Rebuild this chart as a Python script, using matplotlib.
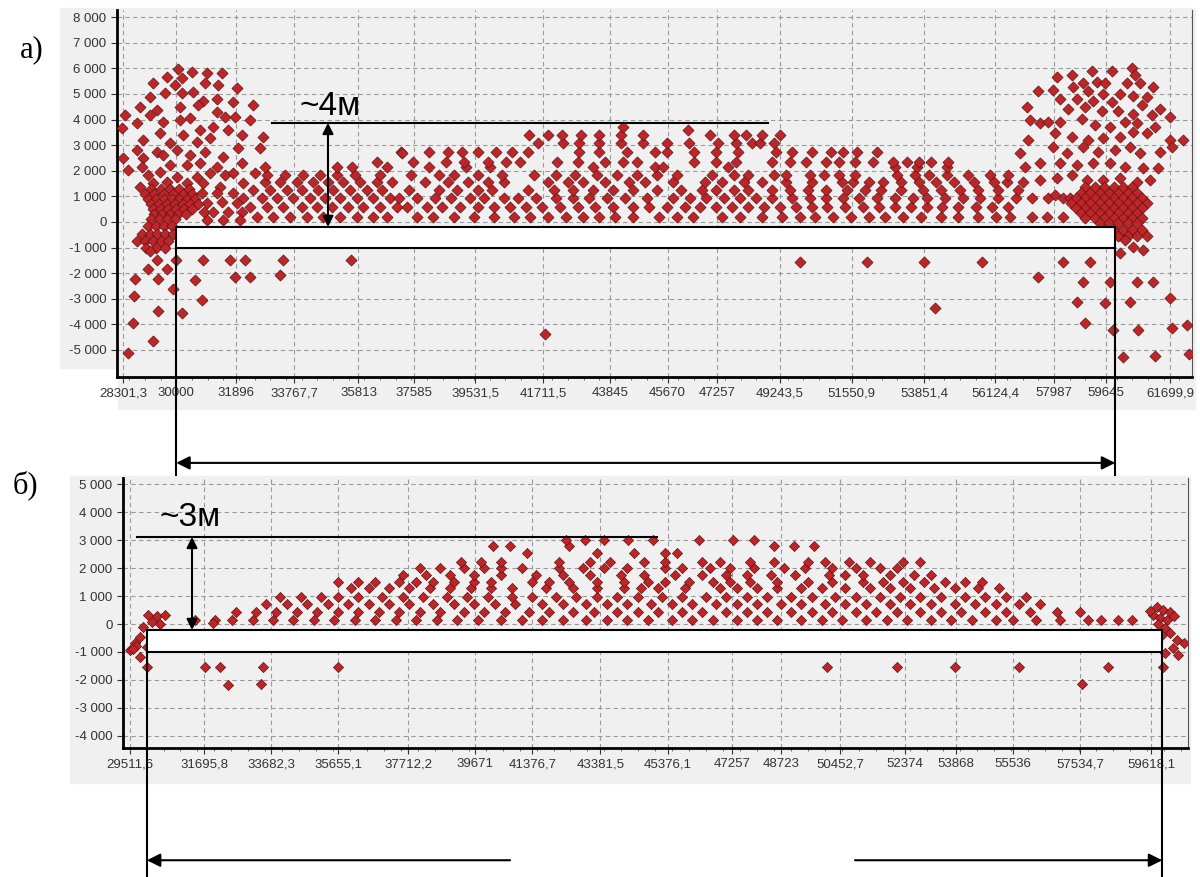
import matplotlib
matplotlib.use("Agg")
import matplotlib.pyplot as plt
from matplotlib.patches import Rectangle
from matplotlib.ticker import FixedLocator, MultipleLocator, FuncFormatter

K = 1000  # data below is in thousands

# ---------------- panel a) ----------------
a_xlabels = ["28301,3", "30000", "31896", "33767,7", "35813", "37585", "39531,5",
             "41711,5", "43845", "45670", "47257", "49243,5", "51550,9", "53851,4",
             "56124,4", "57987", "59645", "61699,9"]
a_yticks = [-5, -4, -3, -2, -1, 0, 1, 2, 3, 4, 5, 6, 7, 8]

# rows of the middle band: level, x positions
a_band_levels = [0.21, 0.60, 0.92, 1.25, 1.57, 1.84, 2.16, 2.36, 2.75, 3.07, 3.40]
a_band_rows = [
    [32.56, 33.10, 33.63, 34.16, 34.69, 35.22, 35.75, 36.29, 36.71, 37.67, 38.18, 38.87,
     39.51, 40.14, 40.77, 41.28, 41.85, 42.42, 42.99, 43.49, 44.00, 44.57, 45.39, 45.96,
     46.47, 47.42, 47.99, 48.68, 49.32, 49.89, 50.39, 50.96, 51.53, 52.10, 52.61, 53.18,
     53.75, 54.38, 54.95, 55.58, 56.15, 56.60, 57.29, 57.76, 58.30],
    [32.35, 32.88, 33.41, 34.00, 34.48, 34.96, 35.49, 35.97, 36.50, 37.03, 37.35, 37.99,
     38.49, 39.06, 39.63, 40.14, 40.64, 41.15, 41.66, 42.23, 42.80, 43.37, 43.94, 44.57,
     45.08, 45.65, 46.22, 46.72, 47.23, 47.73, 48.24, 48.75, 49.25, 49.76, 50.27, 50.77,
     51.34, 51.91, 52.42, 52.93, 53.43, 53.94, 54.44, 54.95, 55.52, 56.03, 56.53],
    [32.72, 33.20, 33.73, 34.26, 34.74, 35.22, 35.75, 36.29, 36.82, 37.10, 37.67, 38.24,
     38.75, 39.38, 39.82, 40.45, 40.90, 41.47, 42.10, 42.67, 43.18, 43.75, 44.32, 45.01,
     45.84, 46.40, 46.91, 47.48, 47.99, 48.49, 49.00, 49.63, 50.20, 50.71, 51.28, 51.79,
     52.36, 52.93, 53.49, 53.94, 54.51, 55.08, 55.65, 56.22, 56.79, 57.30, 57.80, 58.30],
    [32.46, 32.99, 33.52, 34.00, 34.53, 35.01, 35.54, 36.07, 36.55, 37.42, 38.37, 38.94,
     39.63, 40.08, 41.21, 42.04, 42.67, 43.30, 43.94, 44.57, 45.33, 46.09, 46.78, 47.23,
     47.80, 48.24, 49.00, 49.57, 50.14, 50.71, 51.41, 51.98, 52.48, 53.11, 53.81, 54.38,
     55.01, 55.58, 56.22, 56.85],
    [32.83, 33.31, 33.84, 34.37, 34.85, 35.33, 35.86, 36.39, 36.87, 37.92, 38.68, 39.32,
     39.95, 40.45, 41.85, 42.48, 42.99, 43.68, 44.44, 44.95, 45.84, 46.85, 47.42, 48.11,
     48.68, 49.44, 50.27, 51.22, 51.60, 52.10, 52.55, 53.11, 53.68, 54.25, 54.82, 55.46,
     56.09, 56.49, 57.02],
    [32.88, 33.47, 34.05, 34.59, 35.12, 35.70, 36.50, 37.48, 38.37, 38.87, 39.63, 40.39,
     41.40, 42.10, 42.73, 43.43, 44.06, 44.70, 45.33, 45.96, 47.10, 47.80, 48.24, 49.06,
     49.44, 50.20, 50.65, 51.15, 51.66, 52.99, 53.56, 54.00, 54.57, 55.27, 55.96, 56.53],
    [35.13, 35.61, 36.73, 38.05, 39.25, 40.01, 43.30, 45.27, 45.52, 47.61, 52.93, 53.62,
     54.57],
    [36.41, 37.54, 38.62, 39.19, 39.95, 40.52, 40.96, 42.16, 42.80, 43.68, 44.25, 44.70,
     46.53, 47.23, 47.86, 48.99, 49.57, 50.08, 50.71, 51.15, 51.66, 52.23, 52.86, 53.30,
     53.68, 54.06, 54.63],
    [37.16, 38.05, 38.68, 39.13, 39.63, 40.20, 40.71, 41.21, 42.86, 43.49, 44.38, 45.27,
     45.65, 46.53, 47.23, 47.92, 49.13, 49.63, 50.27, 50.90, 51.28, 51.72, 52.36],
    [41.53, 42.35, 42.86, 43.49, 44.19, 44.89, 45.65, 46.34, 47.29, 47.86, 48.37, 48.62,
     49.06],
    [41.25, 41.85, 42.30, 42.92, 43.49, 44.19, 44.89, 47.04, 47.80, 48.18, 48.68, 49.25],
]
a_peaks = [(44.25, 3.70), (46.32, 3.60)]

a_left = [(30.06, 5.98), (30.50, 5.86), (30.98, 5.82), (31.46, 5.82), (29.70, 5.66),
          (30.18, 5.63), (29.26, 5.43), (29.96, 5.35), (30.92, 5.43), (31.33, 5.35),
          (31.94, 5.23), (29.16, 4.88), (29.64, 5.04), (30.18, 5.04), (30.54, 5.08),
          (30.86, 4.73), (31.30, 4.80), (31.81, 4.69), (32.45, 4.57), (28.84, 4.49),
          (29.39, 4.38), (30.12, 4.49), (30.70, 4.57), (28.37, 4.18), (28.75, 3.87),
          (29.16, 4.18), (29.58, 3.91), (30.12, 3.98), (30.44, 4.06), (31.30, 4.30),
          (31.55, 4.10), (31.87, 4.10), (32.35, 3.98), (28.27, 3.67), (29.48, 3.48),
          (30.22, 3.40), (30.76, 3.59), (31.17, 3.71), (31.65, 3.59), (32.10, 3.40),
          (32.77, 3.32), (28.94, 3.20), (29.80, 3.09), (30.66, 3.13), (31.08, 3.28),
          (31.97, 2.89), (32.67, 2.89), (28.75, 2.81), (29.39, 2.73), (30.02, 2.81),
          (30.44, 2.62), (30.92, 2.73), (31.49, 2.54), (28.30, 2.50), (28.94, 2.50),
          (29.58, 2.62), (29.80, 2.23), (30.34, 2.23), (30.76, 2.30), (31.30, 2.15),
          (32.10, 2.30), (32.83, 2.15), (28.46, 2.03), (28.91, 2.15), (29.10, 1.84),
          (29.48, 1.95), (30.02, 1.76), (30.66, 1.76), (31.08, 1.91), (31.55, 1.84),
          (31.81, 1.91), (32.51, 1.91), (28.84, 1.37), (29.26, 1.52), (29.70, 1.56),
          (30.34, 1.52), (30.86, 1.52), (31.40, 1.37), (32.13, 1.52), (37.20, 2.70),
          (30.81, 1.15), (31.29, 1.12), (31.82, 1.15), (32.14, 0.95), (30.97, 0.73),
          (31.45, 0.80), (31.93, 0.73), (30.90, 0.40), (31.18, 0.40), (31.66, 0.40),
          (32.10, 0.40), (30.97, 0.08), (31.50, 0.08), (32.03, 0.08)]

a_left_core = [(29.2, 1.3), (29.5, 1.3), (29.8, 1.3), (30.1, 1.3), (30.4, 1.3),
               (29.0, 1.1), (29.3, 1.1), (29.6, 1.1), (29.9, 1.1), (30.2, 1.1), (30.5, 1.1),
               (29.1, 0.9), (29.35, 0.9), (29.6, 0.9), (29.85, 0.9), (30.1, 0.9),
               (30.35, 0.9), (30.6, 0.9), (29.2, 0.7), (29.45, 0.7), (29.7, 0.7),
               (29.95, 0.7), (30.2, 0.7), (30.45, 0.7), (30.7, 0.7), (29.25, 0.5),
               (29.5, 0.5), (29.75, 0.5), (30.0, 0.5), (30.25, 0.5), (30.5, 0.5),
               (29.3, 0.3), (29.55, 0.3), (29.8, 0.3), (30.05, 0.3), (30.3, 0.3),
               (29.2, 0.1), (29.45, 0.1), (29.7, 0.1), (29.95, 0.1), (29.1, -0.15),
               (29.35, -0.15), (29.6, -0.15), (29.85, -0.15), (28.9, -0.45), (29.15, -0.45),
               (29.4, -0.45), (29.65, -0.45), (29.9, -0.45), (28.75, -0.75), (29.0, -0.75),
               (29.25, -0.75), (29.5, -0.75), (29.75, -0.75), (29.05, -1.0), (29.35, -1.0),
               (29.65, -1.0)]

a_right = [(58.08, 5.68), (58.56, 5.74), (59.20, 5.91), (59.84, 5.91), (60.48, 6.00),
           (60.58, 5.74), (58.93, 5.42), (59.36, 5.48), (59.62, 5.42), (60.32, 5.42),
           (60.74, 5.42), (61.17, 5.26), (57.50, 5.13), (57.98, 5.17), (58.62, 5.29),
           (59.09, 5.13), (59.57, 5.00), (60.10, 5.00), (60.53, 4.94), (60.95, 4.87),
           (58.19, 4.81), (58.72, 4.81), (59.25, 4.74), (59.84, 4.68), (60.80, 4.55),
           (61.38, 4.42), (57.13, 4.48), (58.46, 4.42), (58.99, 4.48), (59.52, 4.35),
           (60.05, 4.35), (60.53, 4.22), (61.11, 4.16), (61.70, 4.09), (57.23, 4.00),
           (57.55, 3.85), (57.82, 3.91), (58.19, 3.91), (58.88, 4.04), (59.31, 3.78),
           (59.78, 3.72), (60.26, 3.91), (60.64, 3.85), (61.22, 3.72), (58.03, 3.46),
           (58.56, 3.33), (59.09, 3.20), (59.57, 3.27), (60.10, 3.33), (60.53, 3.52),
           (60.95, 3.46), (61.70, 3.20), (62.12, 3.20), (57.18, 3.20), (56.91, 2.68),
           (57.98, 2.94), (58.40, 2.68), (58.93, 2.94), (59.41, 2.75), (59.94, 2.81),
           (60.42, 2.94), (60.74, 2.68), (61.38, 2.75), (61.75, 2.94), (57.07, 2.16),
           (57.55, 2.29), (58.19, 2.29), (58.72, 2.23), (59.25, 2.29), (59.78, 2.29),
           (60.26, 2.16), (60.85, 2.10), (61.33, 2.10), (57.55, 1.64), (58.08, 1.71),
           (58.56, 1.84), (59.04, 1.64), (59.57, 1.64), (60.10, 1.71), (60.64, 1.58),
           (61.06, 1.64), (58.03, 1.07), (58.51, 0.94)]

a_right_core = [(59.0, 1.35), (59.3, 1.35), (59.6, 1.35), (59.9, 1.35), (60.2, 1.35),
                (60.5, 1.35), (58.85, 1.15), (59.15, 1.15), (59.45, 1.15), (59.75, 1.15),
                (60.05, 1.15), (60.35, 1.15), (60.65, 1.15), (58.7, 0.95), (59.0, 0.95),
                (59.3, 0.95), (59.6, 0.95), (59.9, 0.95), (60.2, 0.95), (60.5, 0.95),
                (60.8, 0.95), (58.55, 0.75), (58.85, 0.75), (59.15, 0.75), (59.45, 0.75),
                (59.75, 0.75), (60.05, 0.75), (60.35, 0.75), (60.65, 0.75), (60.95, 0.75),
                (58.7, 0.55), (59.0, 0.55), (59.3, 0.55), (59.6, 0.55), (59.9, 0.55),
                (60.2, 0.55), (60.5, 0.55), (60.8, 0.55), (58.85, 0.35), (59.15, 0.35),
                (59.45, 0.35), (59.75, 0.35), (60.05, 0.35), (60.35, 0.35), (60.65, 0.35),
                (59.0, 0.15), (59.3, 0.15), (59.6, 0.15), (59.9, 0.15), (60.2, 0.15),
                (60.5, 0.15), (60.8, 0.15), (59.45, -0.05), (59.75, -0.05), (60.05, -0.05),
                (60.35, -0.05), (60.65, -0.05), (59.6, -0.3), (59.9, -0.3), (60.2, -0.3),
                (60.5, -0.3), (60.8, -0.3), (59.75, -0.55), (60.05, -0.55), (60.35, -0.55),
                (60.65, -0.55), (60.95, -0.55), (60.26, -0.70), (60.53, -0.96),
                (60.85, -1.10), (60.10, -1.20)]

a_below = [(29.99, -1.48), (30.84, -1.48), (31.71, -1.48), (32.19, -1.48), (33.41, -1.48),
           (35.59, -1.48), (31.87, -2.13), (32.35, -2.13), (33.31, -2.06), (30.60, -2.26),
           (30.81, -3.04), (30.17, -3.56), (29.90, -2.63), (29.43, -2.22), (29.69, -1.84),
           (29.11, -1.84), (29.37, -1.48), (29.16, -1.15), (28.68, -2.23), (28.65, -2.88),
           (29.43, -3.49), (28.61, -3.93), (29.27, -4.65), (28.47, -5.11), (41.76, -4.38),
           (49.89, -1.56), (52.03, -1.56), (53.85, -1.56), (54.20, -3.36), (55.70, -1.56),
           (58.30, -1.56), (59.15, -1.56), (57.50, -2.14), (58.93, -2.33), (59.78, -2.33),
           (60.64, -2.33), (61.17, -2.33), (58.72, -3.11), (59.62, -3.18), (60.42, -3.11),
           (61.70, -2.98), (58.99, -3.93), (59.89, -4.22), (60.69, -4.22), (61.75, -4.15),
           (62.23, -4.02), (60.21, -5.29), (61.22, -5.24), (62.31, -5.16)]

# ---------------- panel б) ----------------
b_xlabels = ["29511,6", "31695,8", "33682,3", "35655,1", "37712,2", "39671", "41376,7",
             "43381,5", "45376,1", "47257", "48723", "50452,7", "52374", "53868", "55536",
             "57534,7", "59618,1"]
b_yticks = [-4, -3, -2, -1, 0, 1, 2, 3, 4, 5]

b_band_levels = [0.16, 0.44, 0.70, 0.96, 1.28, 1.52, 1.76, 2.00, 2.22, 2.55, 2.78, 3.00]
b_band_rows = [
    [31.42, 32.02, 32.52, 33.13, 33.73, 34.33, 34.94, 35.54, 36.14, 36.74, 37.35, 37.95,
     38.55, 39.16, 39.76, 40.46, 41.06, 41.67, 42.27, 42.97, 43.58, 44.18, 44.78, 45.49,
     46.09, 46.69, 47.40, 48.00, 48.60, 49.31, 49.91, 50.51, 51.22, 51.82, 52.42, 53.13,
     53.73, 54.33, 55.04, 55.54, 56.24, 56.94, 57.75, 58.15, 58.65, 59.06],
    [32.63, 33.23, 33.83, 34.44, 35.04, 35.64, 36.24, 36.84, 37.45, 38.05, 38.65, 39.36,
     39.96, 40.56, 41.27, 41.87, 42.57, 43.18, 43.88, 44.48, 45.09, 45.79, 46.39, 47.10,
     47.70, 48.30, 49.00, 49.61, 50.21, 50.92, 51.52, 52.12, 52.82, 53.43, 54.03, 54.73,
     55.34, 56.04, 56.84, 57.54],
    [33.53, 34.13, 34.74, 35.34, 35.94, 36.55, 37.15, 37.75, 38.45, 39.06, 39.66, 40.26,
     40.87, 41.67, 42.27, 42.97, 43.58, 44.18, 44.88, 45.49, 46.09, 46.80, 47.40, 48.00,
     48.71, 49.31, 50.01, 50.61, 51.22, 51.92, 52.52, 53.13, 53.83, 54.43, 55.04, 55.74,
     56.34],
    [33.93, 34.54, 35.14, 35.64, 36.24, 36.94, 37.55, 38.15, 38.86, 39.46, 40.06, 40.77,
     41.37, 42.07, 42.67, 43.28, 43.88, 44.48, 45.19, 45.79, 46.49, 47.10, 47.70, 48.30,
     49.00, 49.61, 50.31, 50.92, 51.62, 52.22, 52.82, 53.43, 54.13, 54.73, 55.34, 55.94],
    [36.04, 36.55, 37.15, 37.75, 38.35, 38.96, 39.56, 40.16, 40.77, 41.77, 42.57, 43.28,
     44.08, 44.58, 45.09, 45.89, 46.90, 47.40, 48.00, 48.60, 49.31, 49.91, 50.61, 51.32,
     51.92, 52.52, 53.23, 53.83, 54.53, 55.14],
    [35.64, 36.24, 36.74, 37.45, 37.95, 38.45, 39.06, 39.66, 40.16, 41.37, 41.87, 42.47,
     43.28, 44.08, 44.78, 45.29, 45.99, 46.69, 47.20, 47.80, 48.60, 49.51, 50.21, 51.12,
     51.72, 52.32, 52.92, 53.53, 54.13, 54.63],
    [37.55, 38.25, 38.96, 39.66, 40.46, 41.47, 42.27, 43.08, 43.98, 44.68, 45.59, 46.39,
     47.10, 47.70, 48.41, 49.11, 50.11, 50.61, 51.12, 51.92, 52.62, 53.13],
    [38.05, 38.65, 39.36, 39.96, 40.46, 41.06, 42.17, 42.87, 43.48, 44.18, 45.29, 45.79,
     46.60, 47.20, 47.90, 48.80, 49.41, 50.21, 50.92, 51.62, 52.12],
    [39.26, 39.86, 40.46, 42.17, 43.08, 43.68, 44.68, 45.29, 46.39, 46.90, 47.80, 48.51,
     49.51, 50.01, 50.72, 51.32, 52.32, 52.82],
    [41.22, 43.28, 44.38, 45.29, 45.65],
    [40.22, 40.72, 42.47, 48.50, 49.10, 49.67],
    [42.37, 42.92, 43.48, 44.19, 44.93, 46.29, 47.30, 47.90],
]

b_ends = [(30.05, 0.32), (30.30, 0.29), (30.54, 0.32), (30.15, 0.08), (30.40, 0.00),
          (29.90, -0.10), (29.81, -0.45), (29.66, -0.69), (29.51, -0.93), (30.00, -0.81),
          (29.81, -1.17), (30.00, -1.53), (29.70, -0.80), (29.60, -0.90), (31.97, 0.05),
          (59.79, 0.62), (59.98, 0.51), (60.18, 0.44), (59.69, 0.33), (59.89, 0.22),
          (60.08, 0.15), (59.84, 0.00), (60.03, -0.15), (60.18, -0.32), (60.38, -0.57),
          (60.58, -0.69), (60.28, -0.85), (60.42, -1.11), (60.03, -1.05), (59.98, -1.53),
          (59.60, 0.45), (60.30, 0.30), (59.95, -0.40)]

b_below = [(31.72, -1.53), (32.17, -1.53), (32.41, -2.19), (33.44, -1.53), (33.37, -2.13),
           (35.64, -1.53), (50.06, -1.53), (52.12, -1.53), (53.84, -1.53), (55.74, -1.53),
           (58.36, -1.53), (57.57, -2.16)]


def collect(levels, rows, *groups):
    xs, ys = [], []
    for lev, row in zip(levels, rows):
        for x in row:
            xs.append(x * K)
            ys.append(lev * K)
    for g in groups:
        for x, y in g:
            xs.append(x * K)
            ys.append(y * K)
    return xs, ys


plt.rcParams["font.family"] = ["Liberation Sans", "DejaVu Sans"]
W, H = 1200, 877
fig = plt.figure(figsize=(12, 8.77), dpi=100)

gray = "#f0f0f0"
for x0, y0, x1, y1 in [(60, 8, 118, 368), (118, 8, 1195, 409), (70, 476, 1190, 783)]:
    fig.add_artist(Rectangle((x0 / W, 1 - y1 / H), (x1 - x0) / W, (y1 - y0) / H,
                             transform=fig.transFigure, color=gray, zorder=0))

ax_a = fig.add_axes([117 / W, 1 - 377 / H, 1075 / W, 367 / H])
ax_b = fig.add_axes([123 / W, 1 - 748 / H, 1065 / W, 270 / H])


def style(ax, xlabels, yticks, xlim, ylim, fs):
    ax.set_facecolor(gray)
    xt = [float(s.replace(",", ".")) for s in xlabels]
    ax.xaxis.set_major_locator(FixedLocator(xt))
    ax.set_xticklabels(xlabels)
    ax.xaxis.set_minor_locator(MultipleLocator(500))
    ax.set_yticks([v * K for v in yticks])
    ax.yaxis.set_major_formatter(FuncFormatter(lambda v, p: f"{int(round(v)):,}".replace(",", " ")))
    ax.set_xlim(*xlim)
    ax.set_ylim(*ylim)
    ax.grid(True, color="#9a9a9a", linestyle=(0, (4, 3)), linewidth=0.8)
    ax.set_axisbelow(True)
    ax.tick_params(axis="both", which="major", labelsize=fs, colors="#333333", length=4)
    ax.tick_params(axis="x", which="minor", length=2.5, color="#555555")
    ax.spines["top"].set_visible(False)
    ax.spines["left"].set_linewidth(2)
    ax.spines["bottom"].set_linewidth(2)
    ax.spines["right"].set_linewidth(0.8)
    ax.spines["right"].set_color("#555555")


style(ax_a, a_xlabels, a_yticks, (28110, 62400), (-6055, 8280), 9.5)
style(ax_b, b_xlabels, b_yticks, (29305, 60710), (-4440, 5230), 9.5)

red, edge = "#be2529", "#5e1414"
xa, ya = collect(a_band_levels, a_band_rows, a_peaks, a_left, a_left_core, a_right,
                 a_right_core, a_below)
ax_a.scatter(xa, ya, marker="D", s=32, color=red, edgecolors=edge, linewidths=0.5, zorder=3)
xb, yb = collect(b_band_levels, b_band_rows, b_ends, b_below)
ax_b.scatter(xb, yb, marker="D", s=27, color=red, edgecolors=edge, linewidths=0.5, zorder=3)

# annotations, panel a
lw = 1.5
ax_a.add_patch(Rectangle((30000, -1020), 29950, 825, facecolor="white", edgecolor="black",
                         linewidth=lw, zorder=4))
for xv in (30000, 59950):
    ax_a.plot([xv, xv], [-1020, -9880], color="black", lw=lw, clip_on=False, zorder=4)
ax_a.annotate("", xy=(30000, -9410), xytext=(59950, -9410), annotation_clip=False,
              arrowprops=dict(arrowstyle="<|-|>", color="black", lw=lw, mutation_scale=20,
                              shrinkA=0, shrinkB=0))
ax_a.plot([33050, 48870], [3870, 3870], color="black", lw=lw, zorder=4)
ax_a.annotate("", xy=(34840, -195), xytext=(34840, 3870), annotation_clip=False,
              arrowprops=dict(arrowstyle="<|-|>", color="black", lw=lw, mutation_scale=16,
                              shrinkA=0, shrinkB=0), zorder=5)
ax_a.text(34900, 4500, "~4м", fontsize=24, ha="center", va="center", zorder=5)

# annotations, panel b
ax_b.add_patch(Rectangle((30010, -1000), 29940, 785, facecolor="white", edgecolor="black",
                         linewidth=lw, zorder=4))
for xv in (30010, 59950):
    ax_b.plot([xv, xv], [-1000, -9070], color="black", lw=lw, clip_on=False, zorder=4)
ax_b.annotate("", xy=(30010, -8460), xytext=(40720, -8460), annotation_clip=False,
              arrowprops=dict(arrowstyle="-|>", color="black", lw=lw, mutation_scale=20,
                              shrinkA=0, shrinkB=0))
ax_b.annotate("", xy=(59950, -8460), xytext=(50890, -8460), annotation_clip=False,
              arrowprops=dict(arrowstyle="-|>", color="black", lw=lw, mutation_scale=20,
                              shrinkA=0, shrinkB=0))
ax_b.plot([29720, 45050], [3120, 3120], color="black", lw=lw, zorder=4, clip_on=False)
ax_b.annotate("", xy=(31340, -215), xytext=(31340, 3120), annotation_clip=False,
              arrowprops=dict(arrowstyle="<|-|>", color="black", lw=lw, mutation_scale=16,
                              shrinkA=0, shrinkB=0), zorder=5)
ax_b.text(31280, 3800, "~3м", fontsize=24, ha="center", va="center", zorder=5)

fig.text(32 / W, 1 - 50 / H, "а)", fontsize=22, family=["Liberation Serif", "DejaVu Serif"],
         ha="center", va="center")
fig.text(25 / W, 1 - 485 / H, "б)", fontsize=22, family=["Liberation Serif", "DejaVu Serif"],
         ha="center", va="center")

fig.savefig("out.png", dpi=100)
